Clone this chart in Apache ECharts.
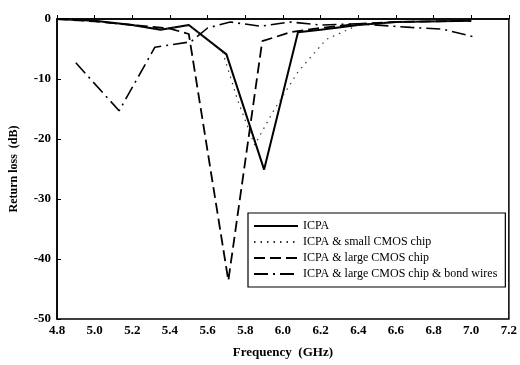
<!DOCTYPE html>
<html>
<head>
<meta charset="utf-8">
<script src="https://cdn.jsdelivr.net/npm/echarts@6/dist/echarts.min.js"></script>
<style>
  html, body { margin: 0; padding: 0; background: #fff; }
  #main { width: 520px; height: 365px; }
</style>
</head>
<body>
<div id="main"></div>
<script>
// Return loss vs frequency
var icpa = [[4.8, 0], [5.0, -0.3], [5.2, -1.0], [5.35, -1.8], [5.5, -1.0], [5.7, -5.9],
  [5.9, -25.1], [6.08, -2.2], [6.2, -1.8], [6.4, -1.0], [6.6, -0.5], [7.0, -0.3]];
var smallChip = [[4.8, 0], [5.0, -0.4], [5.2, -1.1], [5.35, -1.8], [5.5, -1.1], [5.68, -5.5],
  [5.76, -13.6], [5.85, -21.0], [5.95, -15.3], [6.08, -8.8], [6.23, -3.4], [6.4, -1.0],
  [6.6, -0.5], [7.0, -0.3]];
var largeChip = [[4.8, 0], [5.0, -0.4], [5.2, -1.0], [5.4, -1.6], [5.5, -2.5], [5.71, -43.6],
  [5.89, -3.7], [6.04, -2.2], [6.2, -1.5], [6.4, -0.8], [6.6, -0.5], [7.0, -0.3]];
var bondWires = [[4.9, -7.3], [5.13, -15.3], [5.32, -4.7], [5.51, -3.8], [5.6, -1.5],
  [5.72, -0.5], [5.88, -1.2], [6.04, -0.5], [6.2, -1.0], [6.4, -0.8], [6.68, -1.4],
  [6.85, -1.7], [7.03, -3.1]];
var names = ['ICPA', 'ICPA & small CMOS chip', 'ICPA & large CMOS chip',
  'ICPA & large CMOS chip & bond wires'];

var chart = echarts.init(document.getElementById('main'));
var serif = 'Liberation Serif';

var option = {
  backgroundColor: '#ffffff',
  animation: false,
  textStyle: { fontFamily: serif, color: '#000' },
  grid: { left: 57, right: 11, top: 19, bottom: 46, show: true, borderColor: '#000', borderWidth: 1.5 },
  legend: {
    orient: 'vertical',
    left: 248, top: 213,
    padding: [7, 8, 7, 5],
    itemGap: 4,
    itemWidth: 44, itemHeight: 10,
    borderColor: '#000', borderWidth: 1.2,
    backgroundColor: '#fff',
    itemStyle: { opacity: 0 },
    textStyle: { fontFamily: serif, fontSize: 12, color: '#000' },
    data: names
  },
  xAxis: {
    type: 'value', min: 4.8, max: 7.2, interval: 0.2,
    name: 'Frequency  (GHz)', nameLocation: 'middle', nameGap: 27,
    nameTextStyle: { fontFamily: serif, fontSize: 13, fontWeight: 'bold', color: '#000' },
    axisLine: { lineStyle: { color: '#000', width: 1.5 } },
    axisTick: { inside: true, length: 4, lineStyle: { color: '#000' } },
    axisLabel: { fontFamily: serif, fontSize: 13, fontWeight: 'bold', color: '#000', margin: 5,
      formatter: function (v) { return v.toFixed(1); } },
    splitLine: { show: false }
  },
  yAxis: {
    type: 'value', min: -50, max: 0, interval: 10,
    name: 'Return loss  (dB)', nameLocation: 'middle', nameGap: 37,
    nameTextStyle: { fontFamily: serif, fontSize: 12, fontWeight: 'bold', color: '#000' },
    axisLine: { lineStyle: { color: '#000', width: 1.5 } },
    axisTick: { inside: true, length: 4, lineStyle: { color: '#000' } },
    axisLabel: { fontFamily: serif, fontSize: 13, fontWeight: 'bold', color: '#000', margin: 6 },
    splitLine: { show: false }
  },
  series: [
    { name: names[0], type: 'line', data: icpa, symbol: 'none',
      lineStyle: { color: '#000', width: 2, type: 'solid' }, itemStyle: { color: '#000' } },
    { name: names[1], type: 'line', data: smallChip, symbol: 'none',
      lineStyle: { color: '#333', width: 1.2, type: [1.5, 5] }, itemStyle: { color: '#333' } },
    { name: names[2], type: 'line', data: largeChip, symbol: 'none',
      lineStyle: { color: '#000', width: 1.8, type: [11, 5] }, itemStyle: { color: '#000' } },
    { name: names[3], type: 'line', data: bondWires, symbol: 'none',
      lineStyle: { color: '#000', width: 1.6, type: [14, 5, 2, 5] }, itemStyle: { color: '#000' } }
  ]
};

chart.setOption(option);
</script>
</body>
</html>
